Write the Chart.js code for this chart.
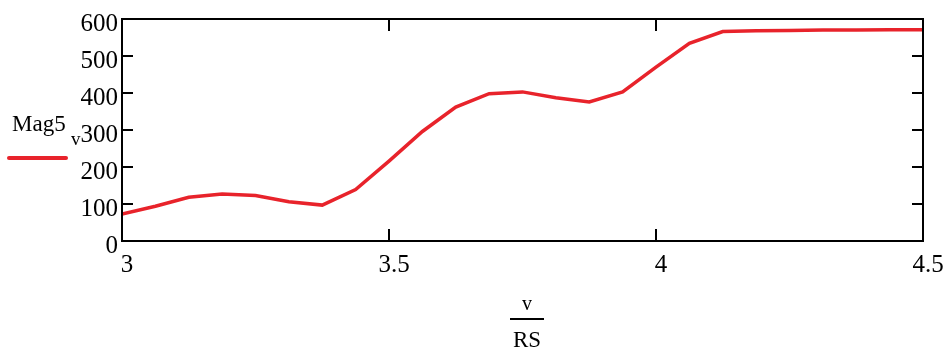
<!DOCTYPE html>
<html>
<head>
<meta charset="utf-8">
<script src="https://cdn.jsdelivr.net/npm/chart.js@4.4.1/dist/chart.umd.min.js"></script>
<style>
  body { margin: 0; background: #fff; }
  #wrap { position: relative; width: 950px; height: 356px; font-family: "Liberation Serif", "Times New Roman", serif; color: #000; }
  #chart { position: absolute; left: 0; top: 0; }
  .txt { position: absolute; line-height: 1; white-space: nowrap; }
</style>
</head>
<body>
<div id="wrap">
  <canvas id="chart" width="950" height="356"></canvas>
  <div class="txt" style="left:12px; top:112px; font-size:23px;">Mag5</div>
  <div class="txt" style="left:71px; top:129px; font-size:19px;">v</div>
  <div style="position:absolute; left:7px; top:156px; width:61px; height:4px; border-radius:2px; background:#e8232b;"></div>
  <div class="txt" style="left:507px; width:40px; text-align:center; top:293px; font-size:20px;">v</div>
  <div style="position:absolute; left:510px; top:318px; width:34px; height:2px; background:#000;"></div>
  <div class="txt" style="left:497px; width:60px; text-align:center; top:328px; font-size:23px;">RS</div>
</div>
<script>
// ============ DATA ============
const xValues = [3, 3.0625, 3.125, 3.1875, 3.25, 3.3125, 3.375, 3.4375, 3.5, 3.5625, 3.625, 3.6875,
                 3.75, 3.8125, 3.875, 3.9375, 4, 4.0625, 4.125, 4.1875, 4.25, 4.3125, 4.375, 4.4375, 4.5];
const mag5 = [73, 94, 118, 127, 123, 106, 97, 139, 216, 296, 362, 398,
              403, 387, 376, 403, 470, 534, 566, 568, 569, 570, 570, 571, 571];
const xTicks = [3, 3.5, 4, 4.5];
const yTicks = [0, 100, 200, 300, 400, 500, 600];

// ============ FRAME + INWARD TICKS ============
const framePlugin = {
    id: 'frame',
    afterDraw(chart) {
        const ctx = chart.ctx;
        const a = chart.chartArea;
        const xs = chart.scales.x;
        const ys = chart.scales.y;
        ctx.save();
        ctx.strokeStyle = '#000';
        ctx.lineWidth = 2;
        ctx.strokeRect(a.left, a.top, a.right - a.left, a.bottom - a.top);
        ctx.beginPath();
        xTicks.slice(1, -1).forEach(v => {
            const px = xs.getPixelForValue(v);
            ctx.moveTo(px, a.bottom); ctx.lineTo(px, a.bottom - 12);
            ctx.moveTo(px, a.top); ctx.lineTo(px, a.top + 12);
        });
        yTicks.slice(1, -1).forEach(v => {
            const py = ys.getPixelForValue(v);
            ctx.moveTo(a.left, py); ctx.lineTo(a.left + 11, py);
            ctx.moveTo(a.right, py); ctx.lineTo(a.right - 11, py);
        });
        ctx.stroke();
        ctx.restore();
    }
};

const tickFont = { family: '"Liberation Serif", "Times New Roman", serif', size: 25 };

new Chart(document.getElementById('chart'), {
    type: 'line',
    data: {
        datasets: [{
            data: xValues.map((x, i) => ({ x: x, y: mag5[i] })),
            borderColor: '#e8232b',
            borderWidth: 3.5,
            pointRadius: 0,
            tension: 0,
            fill: false
        }]
    },
    options: {
        responsive: false,
        animation: false,
        layout: { padding: { left: 72, right: 27, top: 12, bottom: 75 } },
        plugins: { legend: { display: false }, tooltip: { enabled: false } },
        scales: {
            x: {
                type: 'linear',
                min: 3, max: 4.5,
                afterBuildTicks: s => { s.ticks = xTicks.map(v => ({ value: v })); },
                afterFit: s => { s.height = 40; },
                grid: { display: false, drawTicks: false },
                border: { display: false },
                ticks: { font: tickFont, color: '#000', padding: 9, labelOffset: 5, maxRotation: 0,
                         callback: v => String(v) }
            },
            y: {
                min: 0, max: 600,
                afterBuildTicks: s => { s.ticks = yTicks.map(v => ({ value: v })); },
                afterFit: s => { s.width = 50; },
                grid: { display: false, drawTicks: false },
                border: { display: false },
                ticks: { font: tickFont, color: '#000', padding: 4, labelOffset: 5,
                         callback: v => String(v) }
            }
        }
    },
    plugins: [framePlugin]
});
</script>
</body>
</html>
